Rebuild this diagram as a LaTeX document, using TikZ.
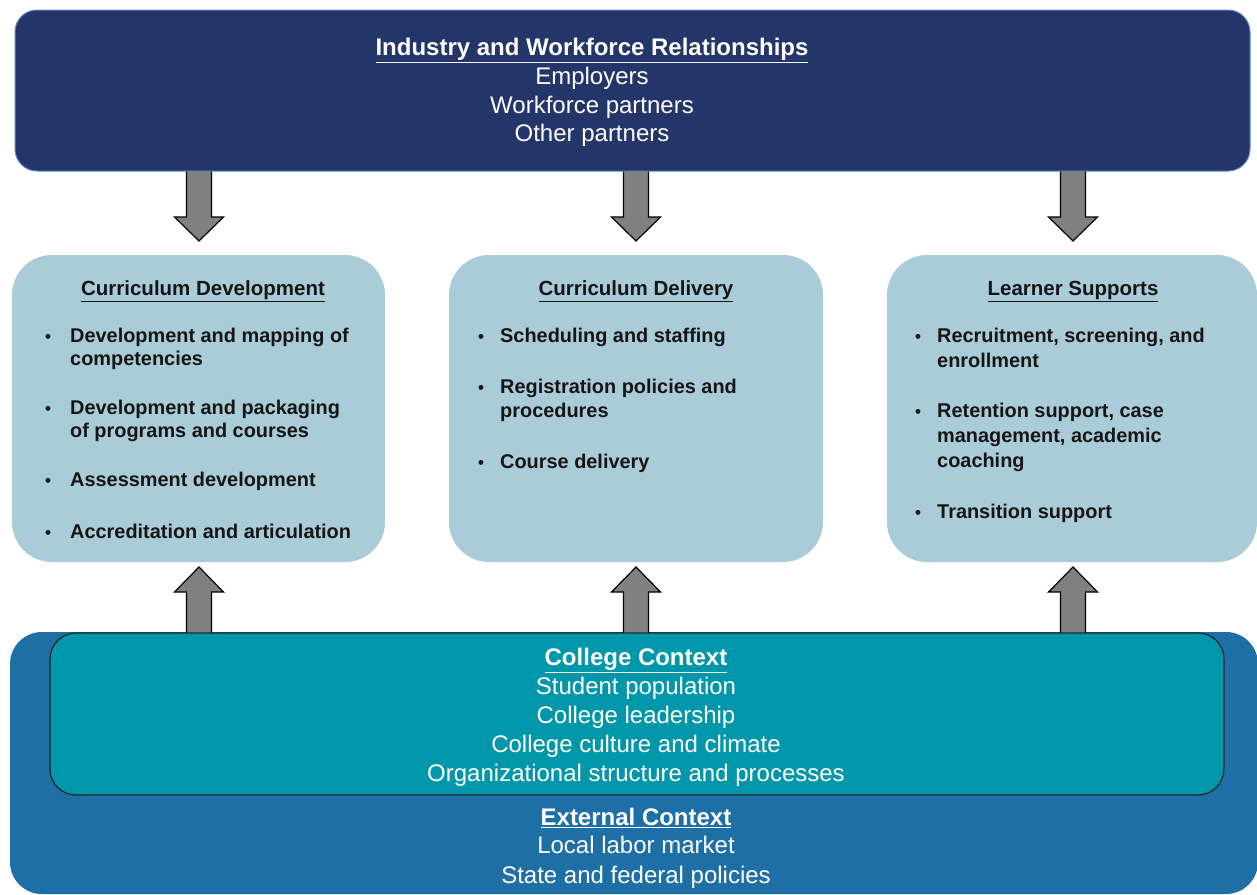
\documentclass[tikz,border=0pt]{standalone}
\usepackage{fontspec}
\setmainfont{Liberation Sans}
\definecolor{navy}{HTML}{24356A}
\definecolor{navyedge}{HTML}{5E86C0}
\definecolor{outerblue}{HTML}{1D6FA5}
\definecolor{teal}{HTML}{0097AB}
\definecolor{lightbox}{HTML}{AACCD8}
\definecolor{arrowgray}{HTML}{808080}
\definecolor{txt}{HTML}{151515}
\tikzset{
  hdrw/.style={text=white,font=\fontsize{24}{28}\selectfont\bfseries,anchor=base,inner sep=0pt},
  linew/.style={text=white,font=\fontsize{24}{28}\selectfont,anchor=base,inner sep=0pt},
  hdrb/.style={text=txt,font=\fontsize{20.5}{24}\selectfont\bfseries,anchor=base,inner sep=0pt},
  itemline/.style={text=txt,font=\fontsize{19.9}{24}\selectfont\bfseries,anchor=base west,inner sep=0pt},
  bul/.style={text=txt,font=\fontsize{17}{24}\selectfont\bfseries,anchor=base,inner sep=0pt},
  barrow/.style={fill=arrowgray,draw=black,line width=1.2pt,line join=miter},
  midbox/.style={fill=lightbox,rounded corners=40pt},
}
\begin{document}
\begin{tikzpicture}[x=1pt,y=-1pt]
\useasboundingbox (0,0) rectangle (1257,894);
% outer external box
\fill[outerblue,rounded corners=32pt] (10,632) rectangle (1258,894);
% arrows (behind boxes)
\foreach \cx in {199,636,1073}{
  \draw[barrow] (\cx-12.5,165) -- (\cx-12.5,217) -- (\cx-24.5,217) -- (\cx,241) -- (\cx+24.5,217) -- (\cx+12.5,217) -- (\cx+12.5,165) -- cycle;
  \draw[barrow] (\cx-12.5,640) -- (\cx-12.5,592) -- (\cx-24.5,592) -- (\cx,567) -- (\cx+24.5,592) -- (\cx+12.5,592) -- (\cx+12.5,640) -- cycle;
}
% college context box
\draw[fill=teal,draw=black!85,line width=1.2pt,rounded corners=26pt] (50,633) rectangle (1224,795);
% top box
\draw[fill=navy,draw=navyedge,line width=1pt,rounded corners=22pt] (15,10) rectangle (1250,171);
% middle boxes
\fill[midbox] (12,255) rectangle (385,562);
\fill[midbox] (449,255) rectangle (823,562);
\fill[midbox] (887,255) rectangle (1257,562);

% top texts
\node[hdrw] (t0) at (592,55.5) {\underline{Industry and Workforce Relationships}};
\node[linew] (t1) at (592,84.5) {Employers};
\node[linew] (t2) at (592,113) {Workforce partners};
\node[linew] (t3) at (592,141.5) {Other partners};

% college texts
\node[hdrw] (c0) at (636,665.5) {\underline{College Context}};
\node[linew] (c1) at (636,694.5) {Student population};
\node[linew] (c2) at (636,723.5) {College leadership};
\node[linew] (c3) at (636,752.5) {College culture and climate};
\node[linew] (c4) at (636,781.5) {Organizational structure and processes};

% external texts
\node[hdrw] (e0) at (636,825.5) {\underline{External Context}};
\node[linew] (e1) at (636,853.5) {Local labor market};
\node[linew] (e2) at (636,883) {State and federal policies};

% box 1
\node[hdrb] (h1) at (203,295.5) {\underline{Curriculum Development}};
\node[bul] (b11) at (48,342) {•};
\node[itemline] (l111) at (70,342) {Development and mapping of};
\node[itemline] (l112) at (70,365) {competencies};
\node[bul] (b12) at (48,414) {•};
\node[itemline] (l121) at (70,414) {Development and packaging};
\node[itemline] (l122) at (70,437) {of programs and courses};
\node[bul] (b13) at (48,486) {•};
\node[itemline] (l131) at (70,486) {Assessment development};
\node[bul] (b14) at (48,538) {•};
\node[itemline] (l141) at (70,538) {Accreditation and articulation};

% box 2
\node[hdrb] (h2) at (636,295.5) {\underline{Curriculum Delivery}};
\node[bul] (b21) at (481,342) {•};
\node[itemline] (l211) at (500,342) {Scheduling and staffing};
\node[bul] (b22) at (481,393) {•};
\node[itemline] (l221) at (500,393) {Registration policies and};
\node[itemline] (l222) at (500,417) {procedures};
\node[bul] (b23) at (481,468) {•};
\node[itemline] (l231) at (500,468) {Course delivery};

% box 3
\node[hdrb] (h3) at (1073,295.5) {\underline{Learner Supports}};
\node[bul] (b31) at (918,342) {•};
\node[itemline] (l311) at (937,342) {Recruitment, screening, and};
\node[itemline] (l312) at (937,367) {enrollment};
\node[bul] (b32) at (918,417) {•};
\node[itemline] (l321) at (937,417) {Retention support, case};
\node[itemline] (l322) at (937,442) {management, academic};
\node[itemline] (l323) at (937,467) {coaching};
\node[bul] (b33) at (918,518) {•};
\node[itemline] (l331) at (937,518) {Transition support};
\end{tikzpicture}
\end{document}
